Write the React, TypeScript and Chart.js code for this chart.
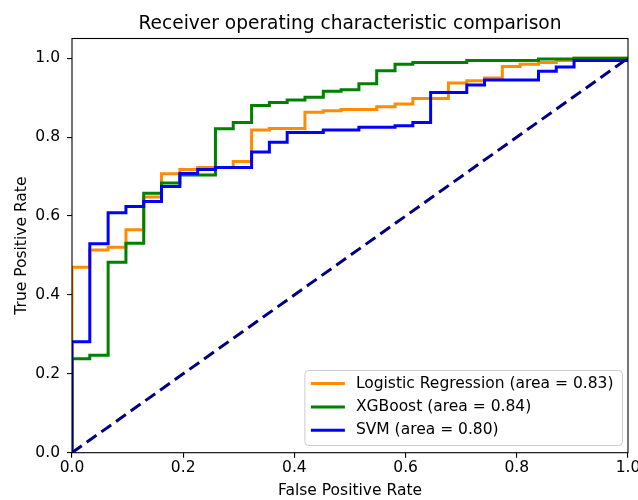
import { useEffect, useRef } from "react";
import { Chart, registerables } from "chart.js";

Chart.register(...registerables);

// ---- data ----
const titleText = "Receiver operating characteristic comparison";
const xAxisLabel = "False Positive Rate";
const yAxisLabel = "True Positive Rate";

const lrFpr = [0, 0, 0.032, 0.065, 0.097, 0.129, 0.161, 0.194, 0.226, 0.290, 0.323, 0.355, 0.419, 0.452, 0.484, 0.548, 0.581, 0.613, 0.677, 0.710, 0.742, 0.774, 0.806, 0.839, 0.871, 0.903, 1.0];
const lrTpr = [0, 0.470, 0.514, 0.521, 0.565, 0.648, 0.707, 0.718, 0.723, 0.738, 0.818, 0.822, 0.863, 0.867, 0.870, 0.877, 0.884, 0.898, 0.937, 0.943, 0.950, 0.979, 0.985, 0.989, 0.994, 1.0, 1.0];

const xgbFpr = [0, 0, 0.032, 0.065, 0.097, 0.129, 0.161, 0.194, 0.258, 0.290, 0.323, 0.355, 0.387, 0.419, 0.452, 0.484, 0.516, 0.548, 0.581, 0.613, 0.710, 0.839, 0.903, 1.0];
const xgbTpr = [0, 0.238, 0.247, 0.483, 0.531, 0.658, 0.684, 0.704, 0.821, 0.837, 0.880, 0.888, 0.894, 0.901, 0.916, 0.920, 0.935, 0.968, 0.985, 0.989, 0.994, 0.998, 1.0, 1.0];

const svmFpr = [0, 0, 0.032, 0.065, 0.097, 0.129, 0.161, 0.194, 0.226, 0.258, 0.323, 0.355, 0.387, 0.452, 0.516, 0.581, 0.613, 0.645, 0.710, 0.742, 0.839, 0.871, 0.903, 1.0];
const svmTpr = [0, 0.281, 0.530, 0.608, 0.624, 0.637, 0.675, 0.708, 0.718, 0.723, 0.762, 0.787, 0.812, 0.818, 0.825, 0.829, 0.837, 0.913, 0.932, 0.945, 0.967, 0.978, 0.994, 1.0];

const chanceFpr = [0, 1];
const chanceTpr = [0, 1];

const seriesLabels = [
  "Logistic Regression (area = 0.83)",
  "XGBoost (area = 0.84)",
  "SVM (area = 0.80)",
];
const seriesColors = ["#ff8c00", "#008000", "#0000ff"];
const chanceColor = "#000080";

const xTicks = [0, 0.2, 0.4, 0.6, 0.8, 1.0];
const yTicks = [0, 0.2, 0.4, 0.6, 0.8, 1.0];

const FONT = "'DejaVu Sans', sans-serif";
const FS = 15.5;
const TITLE_FS = 18.6;

const toPoints = (xs: number[], ys: number[]) => xs.map((x, i) => ({ x, y: ys[i] }));

const decorPlugin = {
  id: "decor",
  afterDatasetsDraw(chart: any) {
    const { ctx, chartArea: a } = chart;
    ctx.save();
    ctx.strokeStyle = "#000";
    ctx.lineWidth = 1.1;
    ctx.strokeRect(a.left, a.top, a.right - a.left, a.bottom - a.top);
    ctx.restore();
  },
  afterDraw(chart: any) {
    const { ctx, chartArea: a } = chart;
    ctx.save();
    // title
    ctx.fillStyle = "#000";
    ctx.font = `${TITLE_FS}px ${FONT}`;
    ctx.textAlign = "center";
    ctx.textBaseline = "alphabetic";
    ctx.fillText(titleText, (a.left + a.right) / 2, a.top - 10);

    // legend
    ctx.font = `${FS}px ${FONT}`;
    let maxW = 0;
    seriesLabels.forEach((t) => {
      maxW = Math.max(maxW, ctx.measureText(t).width);
    });
    const padL = 6.5, handle = 34, gap = 11, padR = 8.5;
    const boxW = padL + handle + gap + maxW + padR;
    const boxH = 75;
    const right = a.right - 6;
    const bottom = a.bottom - 7.7;
    const left = right - boxW;
    const top = bottom - boxH;
    ctx.beginPath();
    ctx.roundRect(left + 0.5, top + 0.5, boxW, boxH, 4);
    ctx.fillStyle = "rgba(255,255,255,0.8)";
    ctx.fill();
    ctx.strokeStyle = "#cccccc";
    ctx.lineWidth = 1;
    ctx.stroke();
    const rowH = 23.4;
    seriesLabels.forEach((t, i) => {
      const cy = top + 13.5 + i * rowH;
      ctx.beginPath();
      ctx.moveTo(left + padL, cy);
      ctx.lineTo(left + padL + handle, cy);
      ctx.strokeStyle = seriesColors[i];
      ctx.lineWidth = 3;
      ctx.stroke();
      ctx.fillStyle = "#000";
      ctx.textAlign = "left";
      ctx.textBaseline = "middle";
      ctx.fillText(t, left + padL + handle + gap, cy);
    });
    ctx.restore();
  },
};

export default function App() {
  const ref = useRef<HTMLCanvasElement | null>(null);

  useEffect(() => {
    if (!ref.current) return;
    const lineDs = (label: string, pts: any[], color: string, order: number) => ({
      label,
      data: pts,
      borderColor: color,
      backgroundColor: color,
      borderWidth: 3,
      pointRadius: 0,
      pointHoverRadius: 0,
      stepped: true,
      fill: false,
      tension: 0,
      order,
    });
    const chart = new Chart(ref.current, {
      type: "line",
      data: {
        datasets: [
          lineDs(seriesLabels[0], toPoints(lrFpr, lrTpr), seriesColors[0], 4),
          lineDs(seriesLabels[1], toPoints(xgbFpr, xgbTpr), seriesColors[1], 3),
          lineDs(seriesLabels[2], toPoints(svmFpr, svmTpr), seriesColors[2], 2),
          {
            label: "chance",
            data: toPoints(chanceFpr, chanceTpr),
            borderColor: chanceColor,
            borderWidth: 3,
            borderDash: [12, 6],
            pointRadius: 0,
            fill: false,
            order: 1,
          } as any,
        ],
      },
      options: {
        animation: false,
        responsive: false,
        devicePixelRatio: 1,
        events: [],
        layout: { padding: { left: 0, right: 10, top: 38.5, bottom: 0 } },
        plugins: {
          legend: { display: false },
          title: { display: false },
          tooltip: { enabled: false },
        },
        scales: {
          x: {
            type: "linear",
            min: 0,
            max: 1,
            afterBuildTicks: (s: any) => {
              s.ticks = xTicks.map((v) => ({ value: v }));
            },
            afterFit: (s: any) => {
              s.height = 47.3;
              s.paddingLeft = 0;
              s.paddingRight = 0;
            },
            border: { display: false },
            grid: {
              drawOnChartArea: false,
              drawTicks: true,
              tickLength: 5,
              color: "#000",
              lineWidth: 1.1,
            },
            ticks: {
              color: "#000",
              font: { family: FONT, size: FS },
              padding: 0.5,
              maxRotation: 0,
              callback: (v: any) => Number(v).toFixed(1),
            },
            title: {
              display: true,
              text: xAxisLabel,
              color: "#000",
              font: { family: FONT, size: FS },
              padding: { top: 0, bottom: 0 },
            },
          },
          y: {
            type: "linear",
            min: 0,
            max: 1.05,
            afterBuildTicks: (s: any) => {
              s.ticks = yTicks.map((v) => ({ value: v }));
            },
            afterFit: (s: any) => {
              s.width = 72;
              s.paddingTop = 0;
              s.paddingBottom = 0;
            },
            border: { display: false },
            grid: {
              drawOnChartArea: false,
              drawTicks: true,
              tickLength: 5,
              color: "#000",
              lineWidth: 1.1,
            },
            ticks: {
              color: "#000",
              font: { family: FONT, size: FS },
              padding: 7,
              callback: (v: any) => Number(v).toFixed(1),
            },
            title: {
              display: true,
              text: yAxisLabel,
              color: "#000",
              font: { family: FONT, size: FS },
              padding: { top: 12.7, bottom: 0 },
            },
          },
        },
      },
      plugins: [decorPlugin],
    } as any);
    return () => chart.destroy();
  }, []);

  return (
    <div style={{ position: "absolute", left: 0, top: 0, width: 638, height: 500, background: "#fff" }}>
      <canvas ref={ref} width={638} height={500} style={{ width: 638, height: 500, display: "block" }} />
    </div>
  );
}
